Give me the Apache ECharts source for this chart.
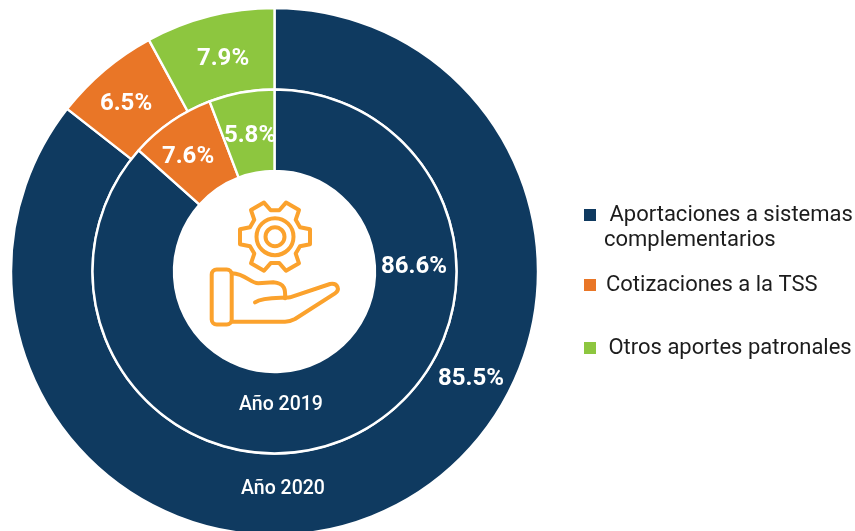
<!DOCTYPE html>
<html><head><meta charset="utf-8">
<style>html,body{margin:0;padding:0;background:#fff}#c{width:855px;height:531px}</style>
<script src="https://cdn.jsdelivr.net/npm/echarts@6/dist/echarts.min.js"></script></head>
<body><div id="c"></div>
<script>
const categories = ['Aportaciones a sistemas\ncomplementarios', 'Cotizaciones a la TSS', 'Otros aportes patronales'];
const values2020 = [85.5, 6.5, 7.9];
const values2019 = [86.6, 7.6, 5.8];
const colors = ['#0F3A60', '#E97627', '#8DC63F'];
const iconColor = '#FBA22D';
const FONT = 'Roboto';
const cx = 274.5, cy = 271.5;

const labelPos2020 = [[471, 379], [126, 104], [223, 59]];
const labelPos2019 = [[414, 267], [188, 157], [250, 136]];

function gearPath(x, y) {
  const R = 35, r = 25, hw = 7.5, hb = 9.5;
  let d = '';
  for (let i = 0; i < 6; i++) {
    const a = i * Math.PI / 3;
    const c = Math.cos(a), s = Math.sin(a);
    const p = (u, v) => (x + u * c - v * s).toFixed(1) + ' ' + (y + u * s + v * c).toFixed(1);
    d += (i ? 'L' : 'M') + p(r, -hb) + 'L' + p(R, -hw) + 'L' + p(R, hw) + 'L' + p(r, hb);
  }
  return d + 'Z';
}
const iconStyle = { stroke: iconColor, lineWidth: 4, fill: null, lineJoin: 'round', lineCap: 'round' };
echarts.graphic.registerShape('iconGear', echarts.graphic.extendPath(gearPath(275, 236.7), {}));
echarts.graphic.registerShape('iconFingers', echarts.graphic.extendPath('M231.7 273.3C246 274 250 283 258.3 283.3L273.3 282.3C285 283.3 285.7 290 285 298.3', {}));
echarts.graphic.registerShape('iconPalm', echarts.graphic.extendPath('M255 302.3C263.3 296.7 280 298.3 290 297.3L330 284C338.3 282.7 340 290 335 293.3L295 319C290 321.7 285 321.7 285 321.7L231.7 321.7', {}));

function ringSeries(values, radius, positions, z) {
  return {
    type: 'pie', radius, center: [cx, cy], startAngle: 90, clockwise: true, z,
    animation: false, silent: true, avoidLabelOverlap: false,
    itemStyle: { borderColor: '#fff', borderWidth: 2.4 },
    label: { show: true, position: 'inside', color: '#fff', fontFamily: FONT, fontWeight: 700, fontSize: 24,
      formatter: p => p.value.toFixed(1) + '%' },
    labelLine: { show: false },
    labelLayout: p => ({ x: positions[p.dataIndex][0], y: positions[p.dataIndex][1], align: 'center', verticalAlign: 'middle' }),
    data: categories.map((name, i) => ({ name, value: values[i], itemStyle: { color: colors[i] } }))
  };
}
function legendFor(i, top, fmt, icon, itemHeight, leftPad) {
  return {
    data: [categories[i]], left: 584, top, orient: 'vertical', padding: 0, itemGap: 0,
    itemWidth: 12, itemHeight, icon, itemStyle: { borderWidth: 0 }, selectedMode: false,
    textStyle: { fontFamily: FONT, fontSize: 22, color: '#1c1c1c', lineHeight: 25, padding: [2, 0, 0, leftPad] },
    formatter: fmt
  };
}
const chart = echarts.init(document.getElementById('c'), null, { renderer: 'canvas' });
chart.setOption({
  animation: false,
  color: colors,
  legend: [
    legendFor(0, 201.5, n => ' ' + n, 'path://M0 6.5H12V18.5H0ZM0 0L12 0M0 50L12 50', 52, 3),
    legendFor(1, 271.5, n => n, 'rect', 12, 5),
    legendFor(2, 334.5, n => ' ' + n, 'rect', 12, 2)
  ],
  series: [
    ringSeries(values2020, [182, 263.5], labelPos2020, 1),
    ringSeries(values2019, [100.5, 182], labelPos2019, 2)
  ],
  graphic: [
    { type: 'text', x: 281, y: 405, style: { text: 'Año 2019', fill: '#fff', font: '500 19.5px Roboto', textAlign: 'center', textVerticalAlign: 'middle' }, z: 10 },
    { type: 'text', x: 283, y: 489, style: { text: 'Año 2020', fill: '#fff', font: '500 19.5px Roboto', textAlign: 'center', textVerticalAlign: 'middle' }, z: 10 },
    { type: 'iconGear', style: iconStyle, z: 10 },
    { type: 'circle', shape: { cx: 275, cy: 236.7, r: 18.5 }, style: iconStyle, z: 10 },
    { type: 'circle', shape: { cx: 275, cy: 236.7, r: 9.5 }, style: iconStyle, z: 10 },
    { type: 'rect', shape: { x: 211.7, y: 269.5, width: 20, height: 55, r: 5 }, style: iconStyle, z: 10 },
    { type: 'iconFingers', style: iconStyle, z: 10 },
    { type: 'iconPalm', style: iconStyle, z: 10 }
  ]
});
</script></body></html>
